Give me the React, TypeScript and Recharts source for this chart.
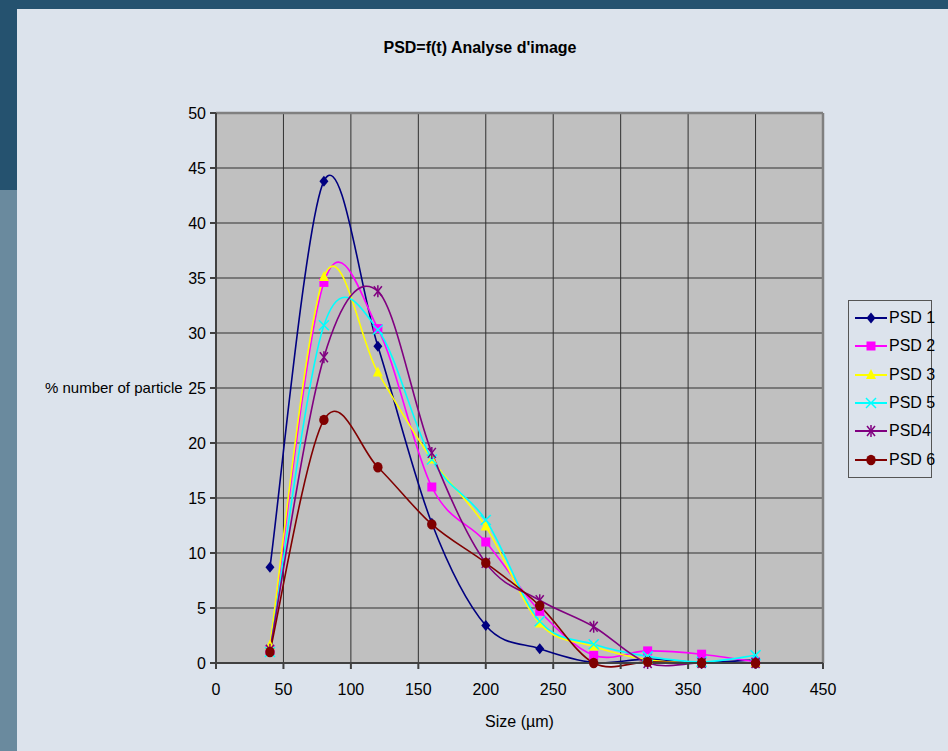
import React from 'react';
import { LineChart, Line, XAxis, YAxis, CartesianGrid, Legend, ReferenceLine } from 'recharts';

const sizes = [40, 80, 120, 160, 200, 240, 280, 320, 360, 400];
const psd1 = [8.7, 43.8, 28.8, 12.7, 3.4, 1.3, 0.05, 0.35, 0.05, 0.3];
const psd2 = [1.2, 34.6, 30.4, 16.0, 11.0, 4.7, 0.7, 1.1, 0.8, 0.1];
const psd3 = [1.6, 35.1, 26.4, 18.5, 12.4, 3.6, 1.5, 0.3, 0, 0];
const psd5 = [1.0, 30.7, 30.3, 18.5, 13.0, 3.8, 1.7, 0.6, 0.1, 0.7];
const psd4 = [1.2, 27.8, 33.8, 19.1, 9.1, 5.7, 3.3, 0, 0, 0];
const psd6 = [1.0, 22.1, 17.8, 12.6, 9.1, 5.2, 0, 0.1, 0, 0];

const xTicks = [0, 50, 100, 150, 200, 250, 300, 350, 400, 450];
const yTicks = [0, 5, 10, 15, 20, 25, 30, 35, 40, 45, 50];

const data = sizes.map((s, i) => ({
  size: s,
  p1: psd1[i],
  p2: psd2[i],
  p3: psd3[i],
  p5: psd5[i],
  p4: psd4[i],
  p6: psd6[i],
}));

const FONT = "'Liberation Sans', Arial, sans-serif";

// smoothing close to Excel's smoothed line (Catmull-Rom through every point)
const smoothCurve: any = (context: any) => {
  let pts: number[][] = [];
  return {
    areaStart() {},
    areaEnd() {},
    lineStart() { pts = []; },
    point(x: number, y: number) { pts.push([+x, +y]); },
    lineEnd() {
      if (!pts.length) return;
      context.moveTo(pts[0][0], pts[0][1]);
      for (let i = 0; i < pts.length - 1; i++) {
        const p0 = pts[i - 1] || pts[i];
        const p1 = pts[i];
        const p2 = pts[i + 1];
        const p3 = pts[i + 2] || p2;
        context.bezierCurveTo(
          p1[0] + (p2[0] - p0[0]) / 6, p1[1] + (p2[1] - p0[1]) / 6,
          p2[0] - (p3[0] - p1[0]) / 6, p2[1] - (p3[1] - p1[1]) / 6,
          p2[0], p2[1],
        );
      }
    },
  };
};

type Shape = 'diamond' | 'square' | 'triangle' | 'x' | 'star' | 'circle';

const Marker = ({ cx, cy, shape, color }: { cx: number; cy: number; shape: Shape; color: string }) => {
  if (cx == null || cy == null) return null;
  switch (shape) {
    case 'diamond':
      return <polygon points={`${cx},${cy - 5.5} ${cx + 4.5},${cy} ${cx},${cy + 5.5} ${cx - 4.5},${cy}`} fill={color} />;
    case 'square':
      return <rect x={cx - 4.5} y={cy - 4.5} width={9} height={9} fill={color} />;
    case 'triangle':
      return <polygon points={`${cx},${cy - 6} ${cx + 5},${cy + 4} ${cx - 5},${cy + 4}`} fill={color} />;
    case 'x':
      return (
        <g stroke={color} strokeWidth={1.5}>
          <line x1={cx - 5} y1={cy - 5} x2={cx + 5} y2={cy + 5} />
          <line x1={cx - 5} y1={cy + 5} x2={cx + 5} y2={cy - 5} />
        </g>
      );
    case 'star':
      return (
        <g stroke={color} strokeWidth={1.5}>
          <line x1={cx - 4} y1={cy - 5} x2={cx + 4} y2={cy + 5} />
          <line x1={cx - 4} y1={cy + 5} x2={cx + 4} y2={cy - 5} />
          <line x1={cx} y1={cy - 6} x2={cx} y2={cy + 6} />
        </g>
      );
    default:
      return <ellipse cx={cx} cy={cy} rx={4.7} ry={5.2} fill={color} />;
  }
};

const series: { key: string; name: string; color: string; shape: Shape }[] = [
  { key: 'p1', name: 'PSD 1', color: '#000080', shape: 'diamond' },
  { key: 'p2', name: 'PSD 2', color: '#ff00ff', shape: 'square' },
  { key: 'p3', name: 'PSD 3', color: '#ffff00', shape: 'triangle' },
  { key: 'p5', name: 'PSD 5', color: '#00ffff', shape: 'x' },
  { key: 'p4', name: 'PSD4', color: '#800080', shape: 'star' },
  { key: 'p6', name: 'PSD 6', color: '#800000', shape: 'circle' },
];

const LegendBox = () => (
  <div
    style={{
      border: '1px solid #555',
      background: '#dce3ec',
      width: 84,
      padding: '3px 0 3px 0',
      fontFamily: FONT,
      fontSize: 16,
      color: '#000',
      boxSizing: 'border-box',
    }}
  >
    {series.map(s => (
      <div key={s.key} style={{ display: 'flex', alignItems: 'center', height: 28.3, whiteSpace: 'nowrap' }}>
        <svg width={36} height={20} style={{ marginLeft: 4, flexShrink: 0 }}>
          <line x1={2} y1={10} x2={34} y2={10} stroke={s.color} strokeWidth={2} />
          <Marker cx={18} cy={10} shape={s.shape} color={s.color} />
        </svg>
        <span>{s.name}</span>
      </div>
    ))}
  </div>
);

export default function App() {
  return (
    <div style={{ position: 'absolute', left: 0, top: 0, width: 948, height: 751, background: '#25526f', overflow: 'hidden' }}>
      <div style={{ position: 'absolute', left: 0, top: 190, width: 17, height: 561, background: '#6a8a9e' }} />
      <div style={{ position: 'absolute', left: 17, top: 9, width: 931, height: 742, background: '#dce3ec' }} />
      <div
        style={{
          position: 'absolute', left: 0, top: 39, width: 960, textAlign: 'center',
          fontFamily: FONT, fontWeight: 'bold', fontSize: 16, color: '#000',
        }}
      >
        PSD=f(t) Analyse d'image
      </div>
      <div style={{ position: 'absolute', left: 0, top: 0 }}>
        <LineChart width={948} height={751} data={data} margin={{ top: 113, right: 125, left: 40, bottom: 18 }}>
          <CartesianGrid fill="#c0c0c0" stroke="#303030" strokeWidth={1} />
          <ReferenceLine y={50} stroke="#808080" strokeWidth={2.5} ifOverflow="visible" />
          <ReferenceLine x={450} stroke="#808080" strokeWidth={2.5} ifOverflow="visible" />
          <XAxis
            dataKey="size"
            type="number"
            domain={[0, 450]}
            ticks={xTicks}
            height={70}
            tickSize={6}
            tickMargin={15}
            stroke="#404040"
            strokeWidth={2}
            tick={{ fill: '#000', fontFamily: FONT, fontSize: 16 }}
            label={{ value: 'Size (µm)', position: 'insideBottom', offset: 6, fill: '#000', fontFamily: FONT, fontSize: 16 }}
          />
          <YAxis
            type="number"
            domain={[0, 50]}
            ticks={yTicks}
            width={176}
            tickSize={6}
            tickMargin={4}
            stroke="#404040"
            strokeWidth={2}
            interval={0}
            tick={{ fill: '#000', fontFamily: FONT, fontSize: 16 }}
            label={{ value: '% number of particle', position: 'insideLeft', offset: 5, fill: '#000', fontFamily: FONT, fontSize: 15 }}
          />
          <Legend
            layout="vertical"
            align="center"
            verticalAlign="middle"
            content={() => <LegendBox />}
            wrapperStyle={{ left: 848, top: 300, width: 84 }}
          />
          {series.map(s => (
            <Line
              key={s.key}
              dataKey={s.key}
              name={s.name}
              type={smoothCurve}
              stroke={s.color}
              strokeWidth={1.6}
              isAnimationActive={false}
              dot={(p: any) => <Marker key={`${s.key}-${p.index}`} cx={p.cx} cy={p.cy} shape={s.shape} color={s.color} />}
              activeDot={false}
            />
          ))}
        </LineChart>
      </div>
    </div>
  );
}
